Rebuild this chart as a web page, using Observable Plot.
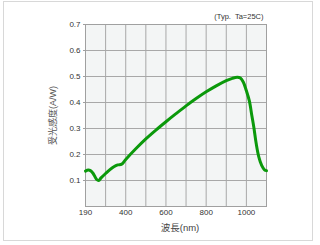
<!DOCTYPE html>
<html>
<head>
<meta charset="utf-8">
<script src="https://cdn.jsdelivr.net/npm/d3@7"></script>
<script src="https://cdn.jsdelivr.net/npm/@observablehq/plot@0.6"></script>
<style>
  html, body { margin: 0; padding: 0; background: #fff; }
  #wrap { position: relative; width: 320px; height: 245px; overflow: hidden; }
  #border { position: absolute; left: 3px; top: 1px; width: 310px; height: 240px; border: 1px solid #d8d8d8; box-sizing: border-box; }
  #chart { position: absolute; left: 0; top: 0; }
  svg { font-family: "Liberation Sans", Arial, "Noto Sans CJK JP", sans-serif; }
</style>
</head>
<body>
<div id="wrap"><div id="border"></div><div id="chart"></div></div>
<script>
// Wavelength (nm) and photosensitivity (A/W)
const wavelength = [190, 205, 217, 232, 250, 262, 275, 300, 320, 341, 360, 380, 400, 450, 500, 550, 600, 650, 700, 750, 800, 850, 900, 930, 955, 970, 985, 1000, 1015, 1027, 1037, 1049, 1062, 1076, 1090, 1100];
const sensitivity = [0.136, 0.140, 0.138, 0.127, 0.105, 0.100, 0.110, 0.127, 0.141, 0.153, 0.160, 0.163, 0.181, 0.222, 0.260, 0.294, 0.326, 0.357, 0.387, 0.415, 0.441, 0.464, 0.484, 0.493, 0.497, 0.494, 0.478, 0.445, 0.405, 0.350, 0.305, 0.241, 0.190, 0.158, 0.141, 0.138];

const xTickValues = [190, 400, 600, 800, 1000];
const xGridValues = [190, 300, 400, 500, 600, 700, 800, 900, 1000, 1100];
const yTickValues = [0.1, 0.2, 0.3, 0.4, 0.5, 0.6, 0.7];
const yGridValues = [0.1, 0.2, 0.3, 0.4, 0.5, 0.6];
const yTitle = "受光感度(A/W)";
const xTitle = "波長(nm)";
const note = "(Typ.  Ta=25C)";

const data = wavelength.map((w, i) => ({w, s: sensitivity[i]}));

// The original axis gives the 190–300 nm span the same width as each 100 nm span.
const axisPos = w => (w < 300 ? 200 + (w - 190) * 100 / 110 : w);

const chart = Plot.plot({
  width: 320,
  height: 245,
  marginLeft: 85,
  marginRight: 54,
  marginTop: 24,
  marginBottom: 39,
  style: {background: "transparent", fontSize: "8px", color: "#333"},
  x: {transform: axisPos},
  y: {domain: [0, 0.7]},
  marks: [
    Plot.frame({fill: "#f3f5f5", stroke: null}),
    Plot.gridX(xGridValues, {stroke: "#a8a8a8", strokeOpacity: 1}),
    Plot.gridY(yGridValues, {stroke: "#a8a8a8", strokeOpacity: 1}),
    Plot.frame({stroke: "#a0a0a0"}),
    Plot.axisY(yTickValues, {tickSize: 2, tickPadding: 3, tickFormat: d3.format(".1f"), label: null, stroke: "#a0a0a0", fill: "#333"}),
    Plot.axisX(xTickValues, {tickSize: 0, tickPadding: 3, tickFormat: d => String(d), label: null, fill: "#333"}),
    Plot.line(data, {x: "w", y: "s", stroke: "#0b990b", strokeWidth: 3, curve: "catmull-rom"}),
    Plot.text([yTitle], {text: d => d, frameAnchor: "left", dx: -32, rotate: -90, textAnchor: "middle", lineAnchor: "middle", fontSize: 9, fill: "#555"}),
    Plot.text([xTitle], {text: d => d, frameAnchor: "bottom", dx: 4, dy: 21, textAnchor: "middle", lineAnchor: "middle", fontSize: 9.5, fill: "#444"}),
    Plot.text([note], {text: d => d, frameAnchor: "top-right", dx: -3, dy: -8, textAnchor: "end", lineAnchor: "middle", fontSize: 7.5, fill: "#333"})
  ]
});
document.getElementById("chart").appendChild(chart);
</script>
</body>
</html>
